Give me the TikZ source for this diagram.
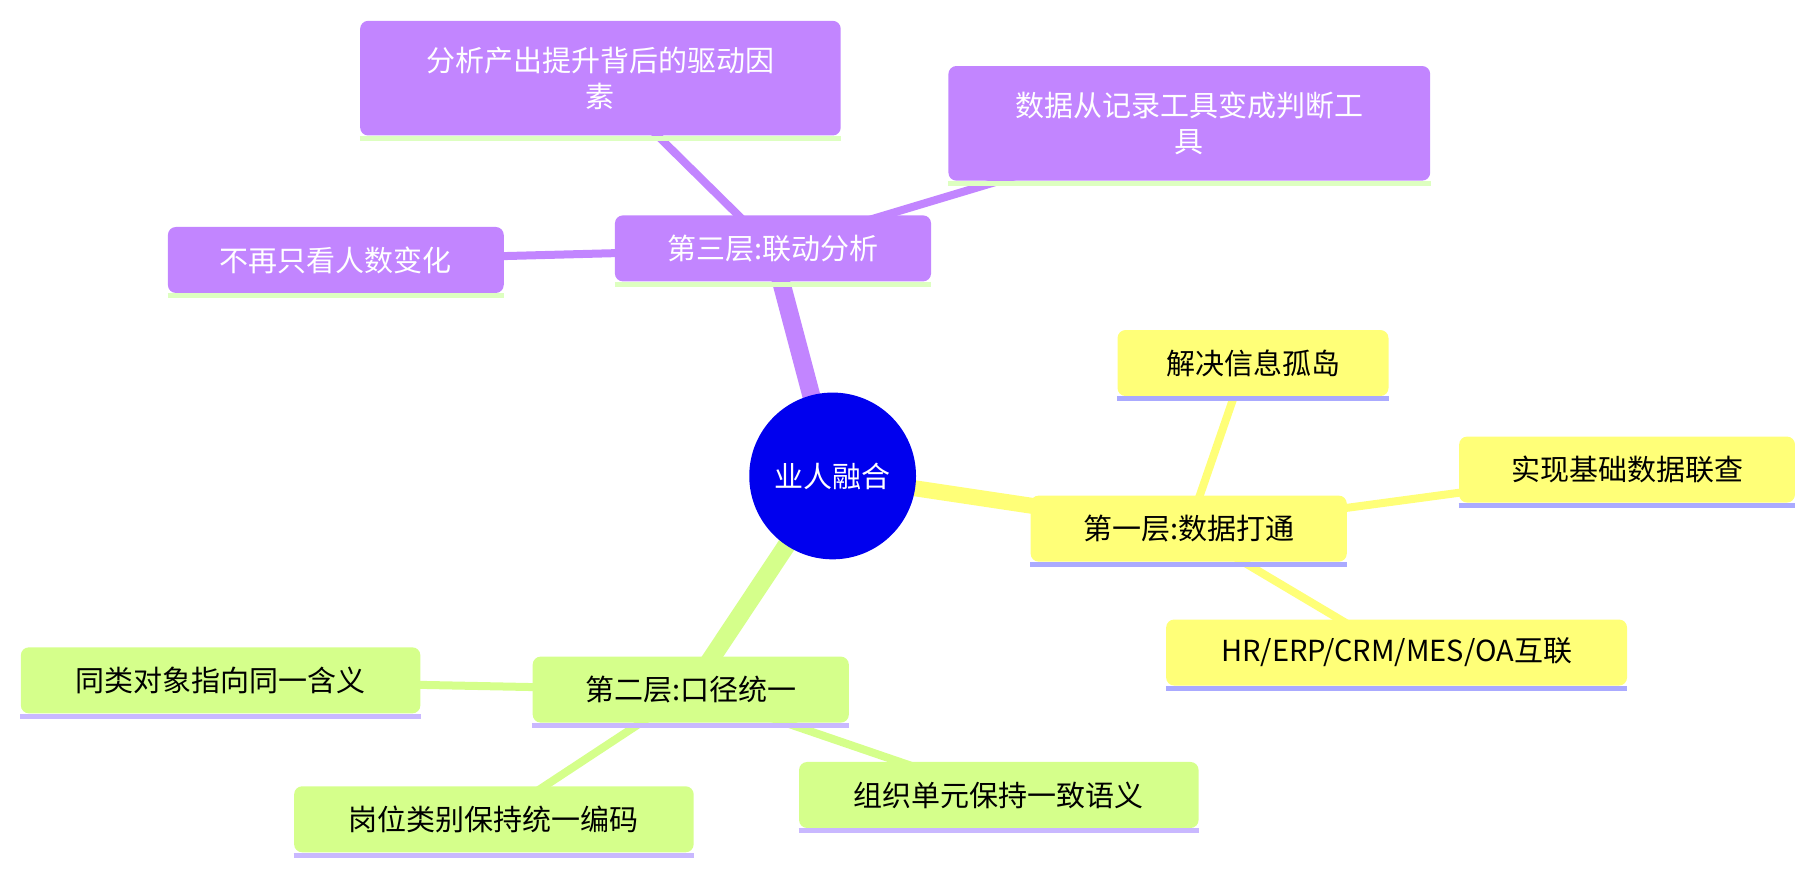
\documentclass[tikz,border=0pt]{standalone}
\usepackage{fontspec}
\setmainfont{Noto Sans CJK SC}
\definecolor{yel}{HTML}{FFFF78}
\definecolor{yelb}{HTML}{AAAAFF}
\definecolor{grn}{HTML}{D5FF8B}
\definecolor{grnb}{HTML}{C9B8FF}
\definecolor{pur}{HTML}{C285FF}
\definecolor{purb}{HTML}{DDFFC0}
\definecolor{ctr}{HTML}{0000EE}
\tikzset{
 box/.style={rectangle,rounded corners=4pt,inner sep=0pt,align=center,font=\fontsize{14.5}{18}\selectfont},
 ybox/.style={box,fill=yel,text=black},
 gbox/.style={box,fill=grn,text=black},
 pbox/.style={box,fill=pur,text=white},
}
\newcommand{\bx}[7]{% style,name,x1,y1,x2,y2,text
 \node[#1,minimum width={(#5-#3)*0.579pt},minimum height={(#6-#4)*0.579pt}] (#2) at ({(#3+#5)/2},{(#4+#6)/2}) {#7};}
\begin{document}
\begin{tikzpicture}[x=0.579pt,y=-0.579pt]
\useasboundingbox (0,0) rectangle (1560.4,750.4);
% node positions via coordinates for edges
\coordinate (c) at (719,411);
\coordinate (l1c) at (1026,457);
\coordinate (l2c) at (596,596);
\coordinate (l3c) at (667,215);
% main edges
\draw[yel,line width=8pt] (c) -- (l1c);
\draw[grn,line width=9pt] (c) -- (l2c);
\draw[pur,line width=9pt] (c) -- (l3c);
% leaf edges
\draw[yel,line width=4pt] (l1c) -- (1075,315);
\draw[yel,line width=4pt] (l1c) -- (1405,406);
\draw[yel,line width=4pt] (l1c) -- (1206,564);
\draw[grn,line width=4pt] (l2c) -- (190,588);
\draw[grn,line width=4pt] (l2c) -- (426,708);
\draw[grn,line width=4pt] (l2c) -- (862,687);
\draw[pur,line width=4pt] (l3c) -- (518,68);
\draw[pur,line width=4pt] (l3c) -- (1027,107);
\draw[pur,line width=4pt] (l3c) -- (290,225);
% center
\node[circle,fill=ctr,text=white,minimum size={144*0.579pt},inner sep=0pt,font=\fontsize{14.5}{18}\selectfont] (ctrn) at (c) {业人融合};
% boxes
\bx{ybox}{l1}{890}{428}{1163}{485}{第一层:数据打通}
\bx{ybox}{a1}{965}{285}{1199}{342}{解决信息孤岛}
\bx{ybox}{a2}{1260}{377}{1550}{434}{实现基础数据联查}
\bx{ybox}{a3}{1007}{535}{1405}{592}{HR/ERP/CRM/MES/OA互联}
\bx{gbox}{l2}{460}{567}{733}{624}{第二层:口径统一}
\bx{gbox}{b1}{18}{559}{363}{616}{同类对象指向同一含义}
\bx{gbox}{b2}{254}{679}{599}{736}{岗位类别保持统一编码}
\bx{gbox}{b3}{690}{658}{1035}{715}{组织单元保持一致语义}
\bx{pbox}{l3}{531}{186}{804}{243}{第三层:联动分析}
\bx{pbox}{c1}{311}{18}{726}{117}{分析产出提升背后的驱动因\\素}
\bx{pbox}{c2}{819}{57}{1235}{156}{数据从记录工具变成判断工\\具}
\bx{pbox}{c3}{145}{196}{435}{253}{不再只看人数变化}
% bottom bars
\foreach \n in {l1,a1,a2,a3} \draw[yelb,line width=2.4pt] ([yshift=-1.2pt]\n.south west) -- ([yshift=-1.2pt]\n.south east);
\foreach \n in {l2,b1,b2,b3} \draw[grnb,line width=2.4pt] ([yshift=-1.2pt]\n.south west) -- ([yshift=-1.2pt]\n.south east);
\foreach \n in {l3,c1,c2,c3} \draw[purb,line width=2.4pt] ([yshift=-1.2pt]\n.south west) -- ([yshift=-1.2pt]\n.south east);
\end{tikzpicture}
\end{document}
